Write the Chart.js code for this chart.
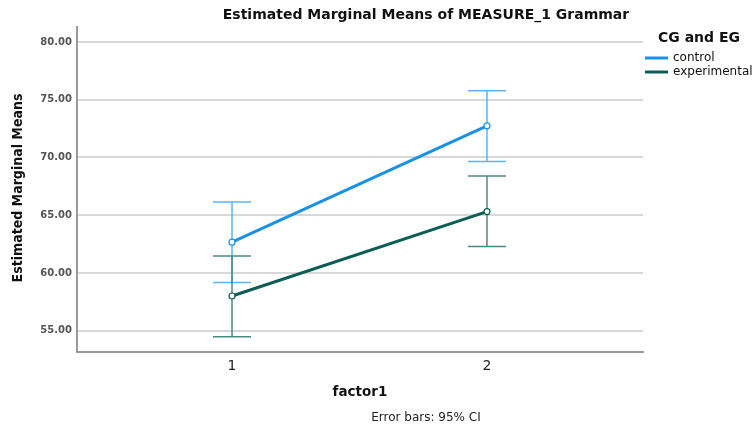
<!DOCTYPE html>
<html>
<head>
<meta charset="utf-8">
<script src="https://cdn.jsdelivr.net/npm/chart.js@4"></script>
<style>
  html, body { margin: 0; padding: 0; background: #fff; }
  #wrap { width: 756px; height: 431px; }
</style>
</head>
<body>
<div id="wrap"><canvas id="chart" width="756" height="431"></canvas></div>
<script>
const factorLevels = [1, 2];
const yTicks = [55, 60, 65, 70, 75, 80];

const controlMeans = [62.66, 72.74];
const controlLower = [59.16, 69.64];
const controlUpper = [66.15, 75.77];

const expMeans = [58.0, 65.31];
const expLower = [54.48, 62.28];
const expUpper = [61.47, 68.4];

const groups = [
  { label: "control", means: controlMeans, lower: controlLower, upper: controlUpper,
    line: "#1b91e6", bar: "#5cb3ee" },
  { label: "experimental", means: expMeans, lower: expLower, upper: expUpper,
    line: "#0c5d55", bar: "#4b8a84" }
];

const font = "'DejaVu Sans', Verdana, sans-serif";

// error bars under the lines
const errorBars = {
  id: "errorBars",
  beforeDatasetsDraw(chart) {
    const { ctx, scales: { x, y } } = chart;
    ctx.save();
    groups.forEach((g) => {
      ctx.strokeStyle = g.bar;
      ctx.lineWidth = 1.5;
      factorLevels.forEach((lvl, i) => {
        const px = x.getPixelForValue(lvl);
        const top = y.getPixelForValue(g.upper[i]);
        const bot = y.getPixelForValue(g.lower[i]);
        ctx.beginPath();
        ctx.moveTo(px, top); ctx.lineTo(px, bot);
        ctx.moveTo(px - 19, top); ctx.lineTo(px + 19, top);
        ctx.moveTo(px - 19, bot); ctx.lineTo(px + 19, bot);
        ctx.stroke();
      });
    });
    ctx.restore();
  }
};

// titles, legend, footnote
const textBits = {
  id: "textBits",
  afterDraw(chart) {
    const { ctx } = chart;
    ctx.save();
    ctx.fillStyle = "#111";
    ctx.textBaseline = "middle";
    ctx.textAlign = "center";
    ctx.font = "bold 14px " + font;
    ctx.fillText("Estimated Marginal Means of MEASURE_1 Grammar", 426, 15);

    ctx.font = "bold 13.5px " + font;
    ctx.fillText("factor1", 360, 392);

    ctx.font = "12px " + font;
    ctx.fillStyle = "#222";
    ctx.fillText("Error bars: 95% CI", 426, 418);

    ctx.save();
    ctx.translate(18, 188);
    ctx.rotate(-Math.PI / 2);
    ctx.font = "bold 14px 'DejaVu Sans Condensed', 'DejaVu Sans', sans-serif";
    ctx.fillStyle = "#111";
    ctx.fillText("Estimated Marginal Means", 0, 0);
    ctx.restore();

    // legend
    ctx.textAlign = "left";
    ctx.font = "bold 14px " + font;
    ctx.fillStyle = "#111";
    ctx.fillText("CG and EG", 658, 38);
    ctx.font = "12px " + font;
    groups.forEach((g, i) => {
      const ly = 58 + i * 14;
      ctx.strokeStyle = g.line;
      ctx.lineWidth = 3;
      ctx.beginPath();
      ctx.moveTo(645, ly); ctx.lineTo(668, ly);
      ctx.stroke();
      ctx.fillStyle = "#111";
      ctx.fillText(g.label, 673, ly);
    });
    ctx.restore();
  }
};

new Chart(document.getElementById("chart"), {
  type: "line",
  data: {
    datasets: groups.map((g) => ({
      label: g.label,
      data: factorLevels.map((lvl, i) => ({ x: lvl, y: g.means[i] })),
      borderColor: g.line,
      borderWidth: 3,
      pointRadius: 3,
      pointBorderWidth: 1.2,
      pointBackgroundColor: "#fff",
      pointBorderColor: g.line,
      tension: 0
    }))
  },
  options: {
    responsive: false,
    animation: false,
    layout: { padding: { top: 27, right: 113, left: 0, bottom: 0 } },
    plugins: { legend: { display: false }, title: { display: false }, tooltip: { enabled: false } },
    scales: {
      x: {
        type: "linear",
        min: 0.392,
        max: 2.612,
        afterBuildTicks: (s) => { s.ticks = factorLevels.map((v) => ({ value: v })); },
        afterFit: (s) => { s.height = 79; },
        grid: { display: false, drawTicks: false },
        border: { color: "#9a9a9a", width: 2 },
        ticks: { color: "#222", font: { family: font, size: 14 }, padding: 6,
          callback: (v) => String(v) }
      },
      y: {
        min: 53.15,
        max: 81.3,
        afterBuildTicks: (s) => { s.ticks = yTicks.map((v) => ({ value: v })); },
        afterFit: (s) => { s.width = 77; },
        grid: { color: "#d8d8d8", lineWidth: 2, drawTicks: false },
        border: { color: "#9a9a9a", width: 2 },
        ticks: { color: "#555", font: { family: font, size: 10, weight: "bold" }, padding: 5,
          callback: (v) => v.toFixed(2) }
      }
    }
  },
  plugins: [errorBars, textBits]
});
</script>
</body>
</html>
